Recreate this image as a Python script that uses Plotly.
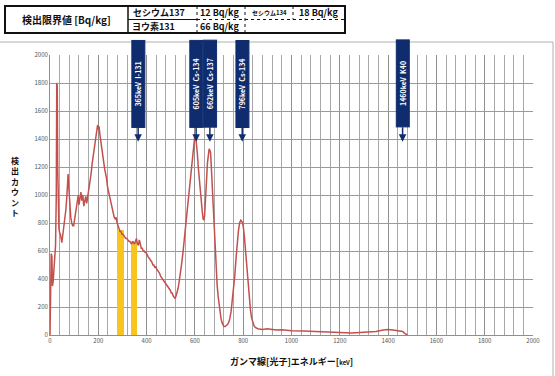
import plotly.graph_objects as go

# ---- data ----
energy_kev = [0, 2, 5, 8, 10, 13, 17, 20, 23, 26, 28, 30, 32, 34, 37, 40, 43, 46, 49, 52, 55, 58, 62, 66, 70, 73, 75, 77,
              80, 83, 86, 90, 94, 98, 102, 106, 110, 114, 117, 120, 124, 128, 132, 136, 140, 144, 148, 152, 156, 160,
              165, 170, 175, 180, 185, 190, 194, 197, 200, 203, 206, 210, 214, 218, 222, 226, 230, 234, 238, 242,
              246, 250, 254, 258, 262, 266, 270, 274, 278, 282, 286, 290, 294, 298, 302, 306, 310, 314, 318, 322,
              326, 330, 334, 338, 342, 346, 350, 354, 358, 362, 366, 370, 374, 378, 382, 386, 390, 394, 398, 402,
              406, 410, 414, 418, 422, 426, 430, 434, 438, 442, 446, 450, 454, 458, 462, 466, 470, 474, 478, 482,
              486, 490, 494, 498, 502, 506, 510, 514, 518, 522, 526, 530, 534, 538, 542, 546, 550, 554, 558, 562,
              566, 570, 574, 578, 582, 586, 590, 594, 597, 600, 603, 606, 610, 614, 618, 622, 626, 630, 634, 637,
              640, 644, 648, 652, 656, 659, 662, 665, 668, 672, 676, 680, 684, 688, 692, 696, 700, 704, 708, 712,
              716, 720, 725, 730, 735, 740, 745, 750, 755, 760, 765, 770, 775, 780, 785, 790, 795, 800, 805, 810,
              815, 820, 825, 830, 835, 840, 845, 850, 860, 880, 900, 920, 940, 960, 980, 1000, 1050, 1100, 1150,
              1200, 1250, 1300, 1350, 1380, 1400, 1420, 1440, 1460, 1470, 1480]
counts = [0, 560, 580, 560, 350, 380, 480, 620, 640, 1000, 1800, 1780, 1200, 770, 760, 730, 720, 690, 660, 700, 740, 760,
          820, 900, 1000, 1100, 1150, 1080, 960, 880, 840, 800, 780, 780, 820, 870, 920, 950, 1000, 930, 970, 1020,
          960, 1000, 920, 960, 990, 940, 980, 1020, 1080, 1150, 1230, 1300, 1360, 1420, 1470, 1500, 1470, 1490,
          1440, 1380, 1320, 1270, 1240, 1190, 1160, 1120, 1060, 1030, 1000, 960, 930, 890, 860, 840, 830, 840, 800,
          780, 760, 740, 740, 720, 720, 710, 700, 690, 690, 680, 670, 670, 660, 650, 670, 660, 650, 670, 690, 650,
          640, 680, 640, 620, 620, 600, 600, 590, 590, 570, 560, 550, 540, 530, 520, 500, 500, 480, 490, 470, 460,
          450, 440, 420, 410, 400, 390, 380, 370, 360, 350, 340, 330, 320, 300, 300, 280, 270, 260, 280, 300, 330,
          370, 410, 460, 520, 580, 650, 720, 790, 860, 930, 1000, 1060, 1120, 1170, 1240, 1330, 1400, 1430, 1420,
          1380, 1300, 1200, 1110, 1030, 960, 890, 830, 820, 850, 950, 1100, 1230, 1300, 1330, 1320, 1300, 1200,
          1050, 880, 720, 580, 460, 360, 280, 210, 160, 120, 90, 70, 60, 60, 65, 75, 90, 120, 170, 240, 320, 420,
          540, 650, 740, 800, 820, 810, 780, 700, 590, 470, 360, 260, 180, 120, 85, 65, 55, 45, 40, 45, 40, 35, 38,
          32, 30, 28, 25, 20, 15, 15, 20, 25, 35, 40, 35, 30, 25, 10, 0]

window_centers = [291, 347]
window_widths = [28, 24]
window_counts = [750, 660]

peak_energies = [365, 605, 662, 796, 1460]
peak_labels = ["365keV  I-131", "605keV  Cs-134", "662keV  Cs-137", "796keV  Cs-134", "1460keV  K40"]

x_ticks = [0, 200, 400, 600, 800, 1000, 1200, 1400, 1600, 1800, 2000]
y_ticks = [0, 200, 400, 600, 800, 1000, 1200, 1400, 1600, 1800, 2000]

# ---- layout helpers (pixel -> paper) ----
W, H = 555, 376
PL, PR, PT, PB = 50, 533, 55, 335
def px(x): return (x - PL) / (PR - PL)
def py(y): return (PB - y) / (PB - PT)

FONT = "Noto Sans CJK JP"
NAVY = "#0f2d6e"

fig = go.Figure()
fig.add_trace(go.Bar(x=window_centers, y=window_counts, width=window_widths,
                     marker=dict(color="#f7c51e", line=dict(width=0)), showlegend=False))
fig.add_trace(go.Scatter(x=energy_kev, y=counts, mode="lines",
                         line=dict(color="#c2504d", width=1.5), showlegend=False))

annotations = []
for e, lab in zip(peak_energies, peak_labels):
    annotations.append(dict(
        x=e, y=1380, xref="x", yref="y", text="<b>" + lab + "</b>", textangle=-90,
        showarrow=True, ax=0, ay=-58, arrowhead=2, arrowsize=1, arrowwidth=1.5, arrowcolor=NAVY,
        bgcolor=NAVY, bordercolor=NAVY, borderpad=1, width=84, height=10,
        font=dict(family=FONT, size=7, color="white")))

def note(x, y, s, size, color="#111"):
    annotations.append(dict(x=px(x), y=py(y), xref="paper", yref="paper", showarrow=False,
                            xanchor="center", yanchor="middle", align="center",
                            text=s, font=dict(family=FONT, size=size, color=color)))

# axis titles
note(15, 186, "<b>検<br>出<br>カ<br>ウ<br>ン<br>ト</b>", 8)
note(291, 361, "<b>ガンマ線[光子]エネルギー[<span style='font-size:6px'>keV</span>]</b>", 9)

# table texts
note(66, 19.5, "<b>検出限界値 [Bq/kg]</b>", 10)
note(159, 12.5, "<b>セシウム137</b>", 9)
note(219, 12.5, "<b>12 Bq/kg</b>", 9)
note(269, 12.5, "<b>セシウム134</b>", 6)
note(318, 12.5, "<b>18 Bq/kg</b>", 9)
note(153, 26.5, "<b>ヨウ素131</b>", 9)
note(219, 26.5, "<b>66 Bq/kg</b>", 9)

shapes = []
def line(x0, y0, x1, y1, w=1, dash="solid", color="#111"):
    shapes.append(dict(type="line", xref="paper", yref="paper", x0=px(x0), y0=py(y0), x1=px(x1), y1=py(y1),
                       line=dict(color=color, width=w, dash=dash)))
# chart frame
shapes.append(dict(type="rect", xref="paper", yref="paper", x0=px(-5), y0=py(390), x1=px(553), y1=py(42),
                   line=dict(color="#b0b0b0", width=1), layer="below"))
# table
shapes.append(dict(type="rect", xref="paper", yref="paper", x0=px(5), y0=py(33), x1=px(345), y1=py(6),
                   line=dict(color="#111", width=2), fillcolor="white"))
line(128, 6, 128, 33, 1.5)
line(197, 6, 197, 33, 1, "dot")
line(245, 6, 245, 33, 1, "dot")
line(293, 6, 293, 19.5, 1, "dot")
line(128, 19.5, 197, 19.5, 1)
line(197, 19.5, 345, 19.5, 1, "dot")

fig.update_layout(
    width=W, height=H, margin=dict(l=PL, r=W - PR, t=PT, b=H - PB),
    paper_bgcolor="white", plot_bgcolor="white", bargap=0,
    font=dict(family=FONT, size=6, color="#555"),
    annotations=annotations, shapes=shapes,
    xaxis=dict(range=[0, 2000], tickvals=x_ticks, showgrid=True, gridcolor="#8f8f8f", gridwidth=1,
               minor=dict(dtick=40, showgrid=True, gridcolor="#a8a8a8", gridwidth=1),
               showline=True, linecolor="#8f8f8f", ticks="", zeroline=False,
               tickfont=dict(family=FONT, size=6, color="#555"), fixedrange=True),
    yaxis=dict(range=[0, 2000], tickvals=y_ticks, showgrid=True, gridcolor="#9a9a9a", gridwidth=1,
               showline=True, linecolor="#8f8f8f", ticks="", zeroline=False,
               tickfont=dict(family=FONT, size=6, color="#555"), fixedrange=True),
)
fig.write_html("out.html", config={"displayModeBar": False},
               post_script="document.body.style.margin='0';")
